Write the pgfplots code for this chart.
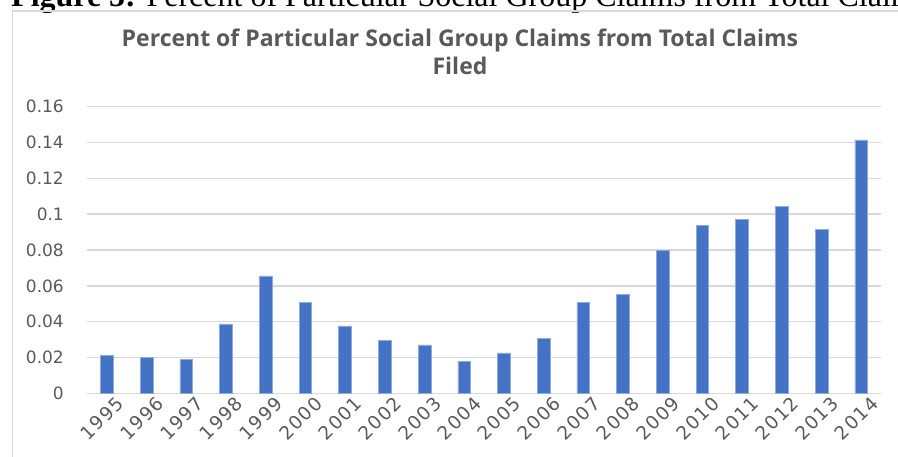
\documentclass[border=0pt]{standalone}
\usepackage{pgfplots}
\pgfplotsset{compat=1.18}
\usepackage{fontspec}
\setmainfont{Open Sans}
\newfontfamily\capfont{Liberation Serif}
\newfontfamily\tickfont{DejaVu Sans}
\newfontfamily\yearfont{DejaVu Sans}[LetterSpace=8]

\definecolor{barblue}{HTML}{4472C4}
\definecolor{baredge}{HTML}{8FAADC}
\definecolor{gridgray}{HTML}{D9D9D9}
\definecolor{textgray}{HTML}{595959}

\begin{document}
\begin{tikzpicture}[x=1pt,y=1pt]
\useasboundingbox (0,0) rectangle (898,457);

% figure caption above the chart frame
\node[anchor=base west, inner sep=0pt] at (11,450)
  {\capfont\fontsize{32}{36}\selectfont\textbf{Figure 5:} Percent of Particular Social Group Claims from Total Claims Filed};

% chart frame
\draw[gridgray, line width=1.5pt] (12.7,-20) -- (12.7,446) -- (920,446);

% chart title
\node[anchor=base, inner sep=0pt, text=textgray, font=\bfseries\fontsize{23}{28}\selectfont] at (460,410)
  {Percent of Particular Social Group Claims from Total Claims};
\node[anchor=base, inner sep=0pt, text=textgray, font=\bfseries\fontsize{23}{28}\selectfont] at (460,382)
  {Filed};

\begin{axis}[
  at={(87pt,63.7pt)}, anchor=south west,
  scale only axis,
  width=794pt, height=286.6pt,
  xmin=-0.5, xmax=19.5,
  ymin=0, ymax=0.16,
  ytick={0,0.02,...,0.161},
  xtick={0,...,19},
  xticklabels={1995,1996,1997,1998,1999,2000,2001,2002,2003,2004,2005,2006,2007,2008,2009,2010,2011,2012,2013,2014},
  ymajorgrids,
  grid style={gridgray, line width=1.4pt},
  axis line style={draw=none},
  major tick length=0pt,
  tick label style={text=textgray},
  yticklabel style={anchor=east, inner sep=0pt, xshift=-23pt,
    font=\tickfont\fontsize{17}{20}\selectfont,
    /pgf/number format/.cd, fixed, precision=2, assume math mode=true},
  xticklabel style={rotate=45, anchor=north east, inner sep=0pt, xshift=5pt, yshift=-7pt,
    font=\yearfont\fontsize{18.5}{22}\selectfont},
  scaled y ticks=false,
  clip=false,
]
\addplot[ybar, bar width=12.7pt, fill=barblue, draw=baredge, line width=0.5pt]
  coordinates {
    (0,0.0212) (1,0.0201) (2,0.0190) (3,0.0387) (4,0.0656)
    (5,0.0506) (6,0.0376) (7,0.0296) (8,0.0271) (9,0.0179)
    (10,0.0225) (11,0.0307) (12,0.0506) (13,0.0553) (14,0.0796)
    (15,0.0938) (16,0.0973) (17,0.1044) (18,0.0915) (19,0.1415)
  };
\end{axis}
\end{tikzpicture}
\end{document}
